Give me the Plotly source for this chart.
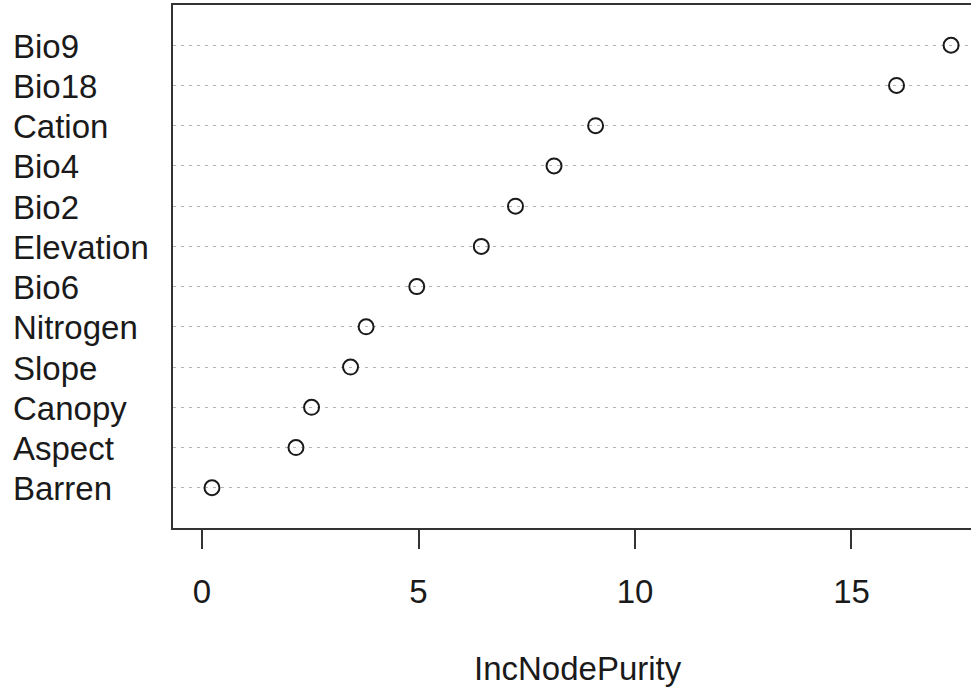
import plotly.graph_objects as go

# Variable importance (random forest), ordered bottom -> top
variables = ["Barren", "Aspect", "Canopy", "Slope", "Nitrogen", "Bio6",
             "Elevation", "Bio2", "Bio4", "Cation", "Bio18", "Bio9"]
inc_node_purity = [0.23, 2.17, 2.53, 3.43, 3.79, 4.96,
                   6.45, 7.24, 8.13, 9.09, 16.04, 17.30]
x_ticks = [0, 5, 10, 15]
x_title = "IncNodePurity"

positions = list(range(1, len(variables) + 1))
FONT = "Liberation Sans, Arial, Helvetica, sans-serif"
INK = "#1a1a1a"

fig = go.Figure()
fig.add_trace(go.Scatter(
    x=inc_node_purity, y=positions, mode="markers",
    marker=dict(symbol="circle-open", size=15, color=INK, line=dict(width=2, color=INK)),
    hoverinfo="x+text", text=variables, showlegend=False,
))

annotations = []
for name, pos in zip(variables, positions):
    annotations.append(dict(
        x=-0.1992, xref="paper", y=pos, yref="y", text=name, showarrow=False,
        xanchor="left", yanchor="middle", yshift=-1, xshift=-3,
        font=dict(family=FONT, size=33, color=INK),
    ))
annotations.append(dict(
    x=0.5075, xref="paper", y=(528 - 668) / 523.0, yref="paper", text=x_title,
    showarrow=False, xanchor="center", yanchor="middle",
    font=dict(family=FONT, size=33, color=INK),
))

fig.update_layout(
    width=971, height=688,
    margin=dict(l=173, r=0, t=5, b=160),
    paper_bgcolor="white", plot_bgcolor="white",
    font=dict(family=FONT, size=33, color=INK),
    annotations=annotations,
    xaxis=dict(
        range=[-0.67, 17.76], tickvals=x_ticks, ticktext=[str(t) for t in x_ticks],
        showgrid=False, zeroline=False,
        showline=True, linecolor="#333333", linewidth=2, mirror=True,
        ticks="outside", ticklen=19, tickwidth=2, tickcolor="#333333",
        ticklabelstandoff=14,
        tickfont=dict(family=FONT, size=33, color=INK),
    ),
    yaxis=dict(
        range=[0, 13], tickvals=positions, showticklabels=False,
        showgrid=True, gridcolor="#b4b4b4", gridwidth=1, griddash="3px,5px",
        zeroline=False, showline=True, linecolor="#333333", linewidth=2,
        mirror=False, ticks="",
    ),
)

fig.write_html("out.html")
